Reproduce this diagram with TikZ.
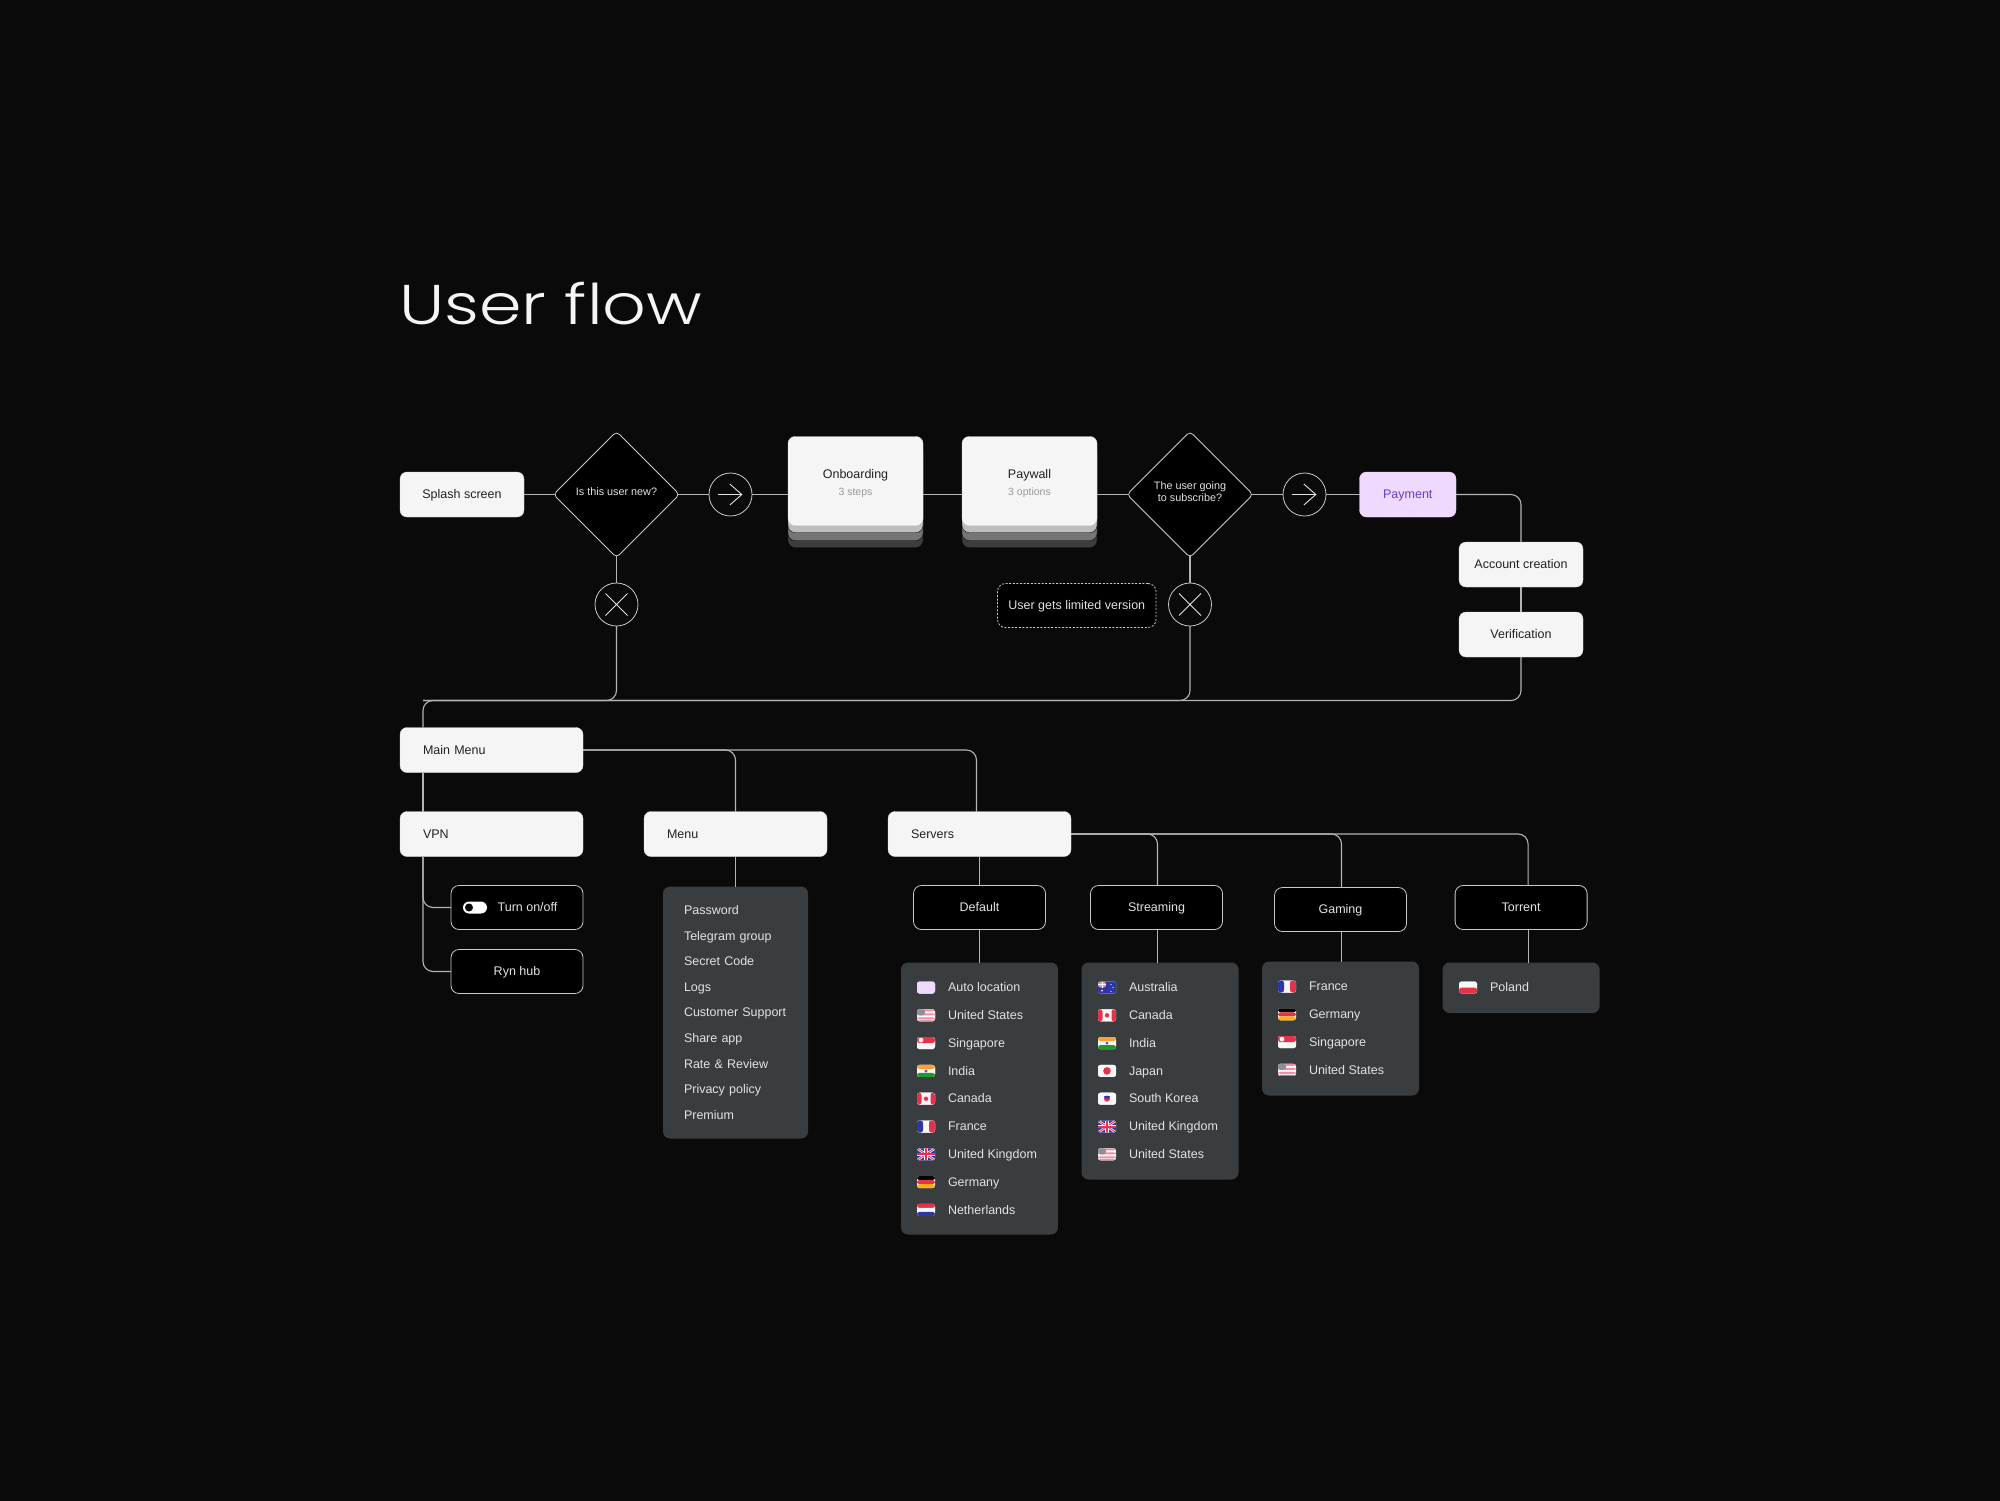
\documentclass[tikz,border=0pt]{standalone}
\usepackage{fontspec}
\setmainfont{Liberation Sans}
\newfontfamily\titlefont[FakeStretch=1.22]{Poppins Light}
\usepackage{xcolor}
\usepackage{tikz}
\usetikzlibrary{arrows.meta,calc,positioning,shapes.geometric,shadows}
\definecolor{bgdark}{HTML}{0A0A0A}
\definecolor{boxfill}{HTML}{F5F5F5}
\definecolor{boxedge}{HTML}{D8D8D8}
\definecolor{linkgray}{HTML}{B4B4B4}
\definecolor{edgegray}{HTML}{CACACA}
\definecolor{paneldark}{HTML}{3A3D40}
\definecolor{rowgray}{HTML}{E2E2E2}
\definecolor{inkdark}{HTML}{222222}
\definecolor{notegray}{HTML}{9A9A9A}
\definecolor{lilac}{HTML}{F0D9FF}
\definecolor{payink}{HTML}{6A3BC8}
\definecolor{layera}{HTML}{BDBDBD}
\definecolor{layerb}{HTML}{757575}
\definecolor{layerc}{HTML}{3D3D3D}
\definecolor{fred}{HTML}{E8304A}
\definecolor{fblue}{HTML}{2E35A8}
\definecolor{fwhite}{HTML}{F7F7F7}
\definecolor{forange}{HTML}{FFA033}
\definecolor{fgreen}{HTML}{1E9A2E}
\definecolor{fyellow}{HTML}{FFAE1A}
\definecolor{fpink}{HTML}{EE8FA5}
\definecolor{fcanton}{HTML}{8E8E9C}
\newcommand\flagauto{\fill[lilac] (-9,-6) rectangle (9,6);}
\newcommand\flagus{\fill[fwhite] (-9,-6) rectangle (9,6);\fill[fpink] (-9,-6) rectangle (9,-4) (-9,-2) rectangle (9,0) (-9,2) rectangle (9,4);\fill[fpink!80!black] (-9,5) rectangle (9,6);\fill[fcanton] (-9,-6) rectangle (-1,0);}
\newcommand\flagsg{\fill[fwhite] (-9,-6) rectangle (9,6);\fill[fred] (-9,-6) rectangle (9,0);\fill[fwhite] (-5,-3) circle (2.4);}
\newcommand\flagin{\fill[fwhite] (-9,-6) rectangle (9,6);\fill[forange] (-9,-6) rectangle (9,-2);\fill[fgreen] (-9,2) rectangle (9,6);\fill[fblue] (0,0) circle (1.6);\fill[fwhite] (0,0) circle (.6);}
\newcommand\flagca{\fill[fwhite] (-9,-6) rectangle (9,6);\fill[fred] (-9,-6) rectangle (-4.5,6) (4.5,-6) rectangle (9,6) (0,0) circle (2.2);}
\newcommand\flagfr{\fill[fwhite] (-9,-6) rectangle (9,6);\fill[fblue] (-9,-6) rectangle (-3,6);\fill[fred] (3,-6) rectangle (9,6);}
\newcommand\flaguk{\fill[fblue] (-9,-6) rectangle (9,6);\draw[fwhite,line width=2.4pt] (-9,-6) -- (9,6) (-9,6) -- (9,-6);\draw[fred,line width=.9pt] (-9,-6) -- (9,6) (-9,6) -- (9,-6);\draw[fwhite,line width=3.6pt] (-9,0) -- (9,0) (0,-6) -- (0,6);\draw[fred,line width=2pt] (-9,0) -- (9,0) (0,-6) -- (0,6);}
\newcommand\flagde{\fill[black] (-9,-6) rectangle (9,-2);\fill[fred] (-9,-2) rectangle (9,2);\fill[fyellow] (-9,2) rectangle (9,6);}
\newcommand\flagnl{\fill[fred] (-9,-6) rectangle (9,-2);\fill[fwhite] (-9,-2) rectangle (9,2);\fill[fblue] (-9,2) rectangle (9,6);}
\newcommand\flagau{\fill[fblue] (-9,-6) rectangle (9,6);\fill[fpink] (-9,-6) rectangle (-1,0);\fill[fwhite] (-5,3) circle (1) (4,-3) circle (.7) (6,0) circle (.7) (4,4) circle (.7);\draw[fwhite,line width=1pt] (-9,-3) -- (-1,-3) (-5,-6) -- (-5,0);}
\newcommand\flagjp{\fill[fwhite] (-9,-6) rectangle (9,6);\fill[fred] (0,0) circle (3.8);}
\newcommand\flagkr{\fill[fwhite] (-9,-6) rectangle (9,6);\fill[fred] (0,0) circle (3);\fill[fblue] (-3,0) arc (180:360:3) -- cycle;}
\newcommand\flagpl{\fill[fwhite] (-9,-6) rectangle (9,0);\fill[fred] (-9,0) rectangle (9,6);}
\newcommand\subnote[1]{{\color{notegray}\fontsize{10.5}{16.7}\selectfont #1}}
\newcommand\pushdown{\rule{0pt}{14pt}}
\newcommand\pushup{\rule[-5.5pt]{0pt}{1pt}}
\tikzset{
  roundfill/.style={rectangle,draw=boxedge,fill=boxfill,text=inkdark,rounded corners=7pt},
  lightbox/.style={roundfill,text height=10.3pt,text depth=2pt,minimum width=124pt,minimum height=45pt},
  menubox/.style={lightbox,text width=137pt,align=left,inner xsep=23pt},
  darkbox/.style={rectangle,draw=edgegray,line width=.8pt,fill=black,text=rowgray,rounded corners=8pt,text height=10.3pt,text depth=2pt,minimum width=132pt,minimum height=44pt},
  card/.style={roundfill,minimum width=135pt,minimum height=89pt,
    general shadow={shadow yshift=-22pt,fill=layerc,draw=bgdark},
    general shadow={shadow yshift=-15pt,fill=layerb,draw=bgdark},
    general shadow={shadow yshift=-7pt,fill=layera,draw=bgdark}},
  decision/.style={diamond,draw=edgegray,line width=.8pt,fill=black,text=rowgray,rounded corners=4pt,minimum size=126pt,inner sep=0pt,font=\fontsize{10.8}{12.5}\selectfont},
  gosign/.style={circle,draw=edgegray,line width=.8pt,minimum size=43pt,inner sep=0pt,path picture={\draw[rowgray,line width=.9pt,-{Straight Barb[length=12pt,width=21pt]}] ($(path picture bounding box.center)-(13,0)$) -- ($(path picture bounding box.center)+(12,0)$);}},
  nosign/.style={circle,draw=edgegray,line width=.8pt,minimum size=43pt,inner sep=0pt,path picture={\draw[rowgray,line width=.9pt] ($(path picture bounding box.center)+(-11,-11)$) -- ($(path picture bounding box.center)+(11,11)$) ($(path picture bounding box.center)+(-11,11)$) -- ($(path picture bounding box.center)+(11,-11)$);}},
  panel/.style={rectangle,fill=paneldark,text=rowgray,rounded corners=7pt,minimum width=157pt},
  flag/.style={rectangle,fill=fwhite,rounded corners=2.5pt,minimum width=18pt,minimum height=12pt,inner sep=0pt,path picture={\begin{scope}[shift={(path picture bounding box.center)}]\csname flag#1\endcsname\end{scope}}},
  rowtext/.style={text=rowgray,inner sep=0pt,text height=10.3pt,text depth=2pt},
  link/.style={draw=linkgray,line width=1.1pt,rounded corners=10pt}
}
\begin{document}
\begin{tikzpicture}[x=1pt,y=-1pt,node distance=15.8pt,label distance=13pt,every node/.style={font=\fontsize{12.5}{16.7}\selectfont,align=center,outer sep=0pt}]
\useasboundingbox (0,0) rectangle (2000,1500);
\fill[bgdark] (-5,-5) rectangle (2005,1505);
\node[anchor=west,text=boxfill,inner sep=0pt,font=\titlefont\fontsize{56}{60}\selectfont] (title) at (399,304) {User flow};
\node[lightbox] (splash) at (462,494.5) {Splash screen};
\node[decision,right=29.5pt of splash] (isnew) {Is this user new?\pushup};
\node[gosign,right=29.5pt of isnew] (gonew) {};
\node[card,right=36pt of gonew,yshift=13.5pt] (onboarding) {\pushdown Onboarding\\\subnote{3 steps}};
\node[card,right=39pt of onboarding] (paywall) {\pushdown Paywall\\\subnote{3 options}};
\node[decision,right=30pt of paywall,yshift=-13.5pt] (subscribe) {The user going\\to subscribe?\pushup};
\node[gosign,right=30pt of subscribe] (gosub) {};
\node[lightbox,fill=lilac,draw=lilac,text=payink,right=33.5pt of gosub,minimum width=96.5pt] (payment) {Payment};
\node[lightbox,below right=25pt and 3pt of payment.south east] (account) {Account creation};
\node[lightbox,below=25pt of account] (verify) {Verification};
\node[nosign,below=25.5pt of isnew] (nonew) {};
\node[nosign,below=25.5pt of subscribe] (nosub) {};
\node[darkbox,dashed,dash pattern=on 2pt off 1.6pt,left=12.5pt of nosub,minimum width=158.5pt,yshift=-1pt] (limited) {User gets limited version};
\coordinate (trunk) at (423,700.5);
\node[menubox] (mainmenu) at (491.5,750) {Main Menu};
\node[menubox,below=39pt of mainmenu] (vpn) {VPN};
\node[menubox,right=61pt of vpn] (menu) {Menu};
\node[menubox,right=61pt of menu] (servers) {Servers};
\node[darkbox,below left=29pt and 0pt of vpn.south east] (turn) {\hspace*{21pt}Turn on/off};
\node[darkbox,below=20pt of turn] (rynhub) {Ryn hub};
\node[rectangle,fill=white,rounded corners=6pt,minimum width=24pt,minimum height=12pt,inner sep=0pt,right=12pt of turn.west] (toggle) {};
\node[circle,fill=black,minimum size=8pt,inner sep=0pt,right=2pt of toggle.west] (knob) {};
\node[panel,below=30pt of menu,minimum width=145pt,minimum height=252pt,text width=103pt,inner xsep=21pt,font=\fontsize{12.5}{25.6}\selectfont,align=left] (menulist) {Password\\Telegram group\\Secret Code\\Logs\\Customer Support\\Share app\\Rate \& Review\\Privacy policy\\Premium};
\node[darkbox,below=29pt of servers] (default) {Default};
\node[darkbox,right=45pt of default] (streaming) {Streaming};
\node[darkbox,right=52pt of streaming,yshift=-2pt] (gaming) {Gaming};
\node[darkbox,right=48.6pt of gaming,yshift=2pt] (torrent) {Torrent};
\node[panel,below=33pt of default,minimum height=272pt] (defaultlist) {};
\node[panel,below=33pt of streaming,xshift=3.5pt,minimum height=217pt] (streamlist) {};
\node[panel,below=30pt of gaming,minimum height=134pt] (gamelist) {};
\node[panel,below=33pt of torrent,minimum height=50.5pt] (torrentlist) {};
\node[flag=auto,below right=19pt and 16pt of defaultlist.north west,label={[rowtext]right:Auto location}] (dauto) {};
\node[flag=us,below=of dauto,label={[rowtext]right:United States}] (dus) {};
\node[flag=sg,below=of dus,label={[rowtext]right:Singapore}] (dsg) {};
\node[flag=in,below=of dsg,label={[rowtext]right:India}] (din) {};
\node[flag=ca,below=of din,label={[rowtext]right:Canada}] (dca) {};
\node[flag=fr,below=of dca,label={[rowtext]right:France}] (dfr) {};
\node[flag=uk,below=of dfr,label={[rowtext]right:United Kingdom}] (duk) {};
\node[flag=de,below=of duk,label={[rowtext]right:Germany}] (dde) {};
\node[flag=nl,below=of dde,label={[rowtext]right:Netherlands}] (dnl) {};
\node[flag=au,below right=19pt and 16.5pt of streamlist.north west,label={[rowtext]right:Australia}] (sau) {};
\node[flag=ca,below=of sau,label={[rowtext]right:Canada}] (sca) {};
\node[flag=in,below=of sca,label={[rowtext]right:India}] (sin) {};
\node[flag=jp,below=of sin,label={[rowtext]right:Japan}] (sjp) {};
\node[flag=kr,below=of sjp,label={[rowtext]right:South Korea}] (skr) {};
\node[flag=uk,below=of skr,label={[rowtext]right:United Kingdom}] (suk) {};
\node[flag=us,below=of suk,label={[rowtext]right:United States}] (sus) {};
\node[flag=fr,below right=19pt and 16pt of gamelist.north west,label={[rowtext]right:France}] (gfr) {};
\node[flag=de,below=of gfr,label={[rowtext]right:Germany}] (gde) {};
\node[flag=sg,below=of gde,label={[rowtext]right:Singapore}] (gsg) {};
\node[flag=us,below=of gsg,label={[rowtext]right:United States}] (gus) {};
\node[flag=pl,below right=19pt and 16.5pt of torrentlist.north west,label={[rowtext]right:Poland}] (tpl) {};
\draw[link,shorten >=-2pt] (splash)--(isnew);\draw[link,shorten <=-2pt] (isnew)--(gonew);\draw[link] (gonew.east)--(gonew.east -| onboarding.west);
\draw[link] (gonew.east -| onboarding.east)--(gonew.east -| paywall.west);\draw[link,shorten >=-2pt] (gonew.east -| paywall.east)--(subscribe.west);
\draw[link,shorten <=-2pt] (subscribe)--(gosub);\draw[link] (gosub)--(payment);
\draw[link] (payment.east) -| (account.north);\draw[link] (account)--(verify);
\draw[link,shorten <=-2pt] (isnew)--(nonew);\draw[link,shorten <=-2pt] (subscribe)--(nosub);
\draw[link] (nonew.south) |- (trunk);\draw[link] (nosub.south) |- (trunk);
\draw[link] (verify.south) |- (trunk) -- (trunk |- mainmenu.north);
\draw[link] (trunk |- mainmenu.south) -- (trunk |- vpn.north);
\draw[link] (mainmenu.east) -| (menu.north);\draw[link] (mainmenu.east) -| ($(servers.north)-(3,0)$);
\draw[link] (trunk |- vpn.south) |- (turn.west);\draw[link] (trunk |- vpn.south) |- (rynhub.west);
\draw[link] (menu)--(menulist);
\draw[link] (servers)--(default);\draw[link] (default)--(defaultlist);
\draw[link] (servers.east) -| ($(streaming.north)+(1,0)$);\draw[link] (servers.east) -| ($(gaming.north)+(1,0)$);\draw[link] (servers.east) -| ($(torrent.north)+(7,0)$);
\draw[link] ($(streaming.south)+(1,0)$) -- ($(streaming.south)+(1,33)$);\draw[link] ($(gaming.south)+(1,0)$) -- ($(gaming.south)+(1,30)$);\draw[link] ($(torrent.south)+(7,0)$) -- ($(torrent.south)+(7,33)$);
\end{tikzpicture}
\end{document}
